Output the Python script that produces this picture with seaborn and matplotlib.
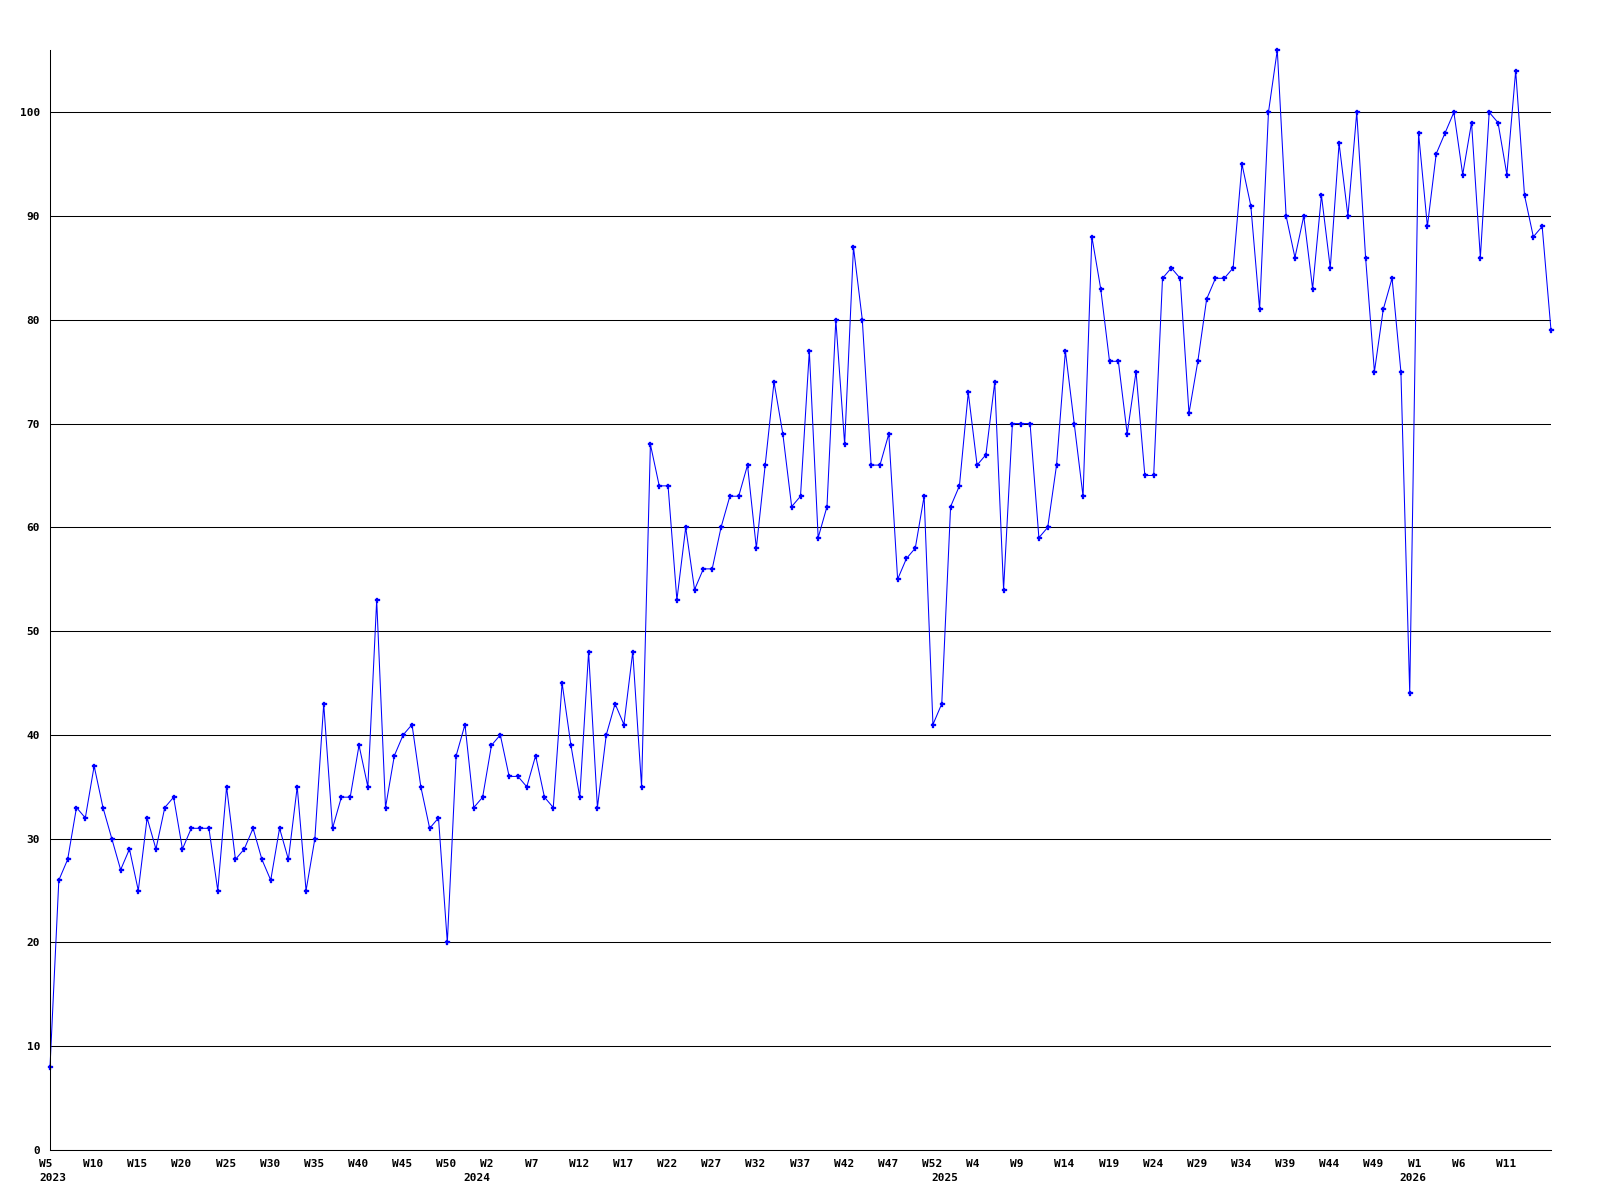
import numpy as np
import pandas as pd
import seaborn as sns
import matplotlib.pyplot as plt
import matplotlib.transforms as mtransforms

# weekly counts, 2023 W5 .. 2026 W16
values = [
    8, 26, 28, 33, 32, 37, 33, 30, 27, 29,
    25, 32, 29, 33, 34, 29, 31, 31, 31, 25,
    35, 28, 29, 31, 28, 26, 31, 28, 35, 25,
    30, 43, 31, 34, 34, 39, 35, 53, 33, 38,
    40, 41, 35, 31, 32, 20, 38, 41, 33, 34,
    39, 40, 36, 36, 35, 38, 34, 33, 45, 39,
    34, 48, 33, 40, 43, 41, 48, 35, 68, 64,
    64, 53, 60, 54, 56, 56, 60, 63, 63, 66,
    58, 66, 74, 69, 62, 63, 77, 59, 62, 80,
    68, 87, 80, 66, 66, 69, 55, 57, 58, 63,
    41, 43, 62, 64, 73, 66, 67, 74, 54, 70,
    70, 70, 59, 60, 66, 77, 70, 63, 88, 83,
    76, 76, 69, 75, 65, 65, 84, 85, 84, 71,
    76, 82, 84, 84, 85, 95, 91, 81, 100, 106,
    90, 86, 90, 83, 92, 85, 97, 90, 100, 86,
    75, 81, 84, 75, 44, 98, 89, 96, 98, 100,
    94, 99, 86, 100, 99, 94, 104, 92, 88, 89,
    79,
]

week_labels = [
    'W5', 'W10', 'W15', 'W20', 'W25', 'W30', 'W35', 'W40', 'W45', 'W50',
    'W2', 'W7', 'W12', 'W17', 'W22', 'W27', 'W32', 'W37', 'W42', 'W47', 'W52',
    'W4', 'W9', 'W14', 'W19', 'W24', 'W29', 'W34', 'W39', 'W44', 'W49',
    'W1', 'W6', 'W11',
]
years = ['2023', '2024', '2025', '2026']
year_first_week = [0, 49, 102, 155]   # index of first week of each year in values

df = pd.DataFrame({'week': np.arange(len(values)), 'count': values})

sns.set_style('white')
plt.rcParams['font.family'] = ['DejaVu Sans Mono']
plt.rcParams['font.weight'] = 'bold'

fig = plt.figure(figsize=(16, 12), dpi=100)
ax = fig.add_axes([50/1600, 50/1200, 1501/1600, 1100/1200])

sns.lineplot(data=df, x='week', y='count', ax=ax, color='#0000ff', linewidth=0.75,
             marker='P', markersize=3.6, markerfacecolor='#0000ff',
             markeredgecolor='#0000ff', markeredgewidth=0.2, clip_on=False)

ax.set_xlim(0, len(values) - 1)
ax.set_ylim(0, max(values))
ax.set_yticks(range(0, 101, 10))
ax.set_xticks(range(0, 5 * len(week_labels), 5))
ax.set_xticklabels(week_labels)
ax.set_xlabel('')
ax.set_ylabel('')

ax.yaxis.grid(True, color='black', linewidth=0.75)
ax.xaxis.grid(False)
ax.set_axisbelow(True)
for side in ['top', 'right']:
    ax.spines[side].set_visible(False)
for side in ['left', 'bottom']:
    ax.spines[side].set_color('black')
    ax.spines[side].set_linewidth(0.75)

ax.tick_params(axis='y', length=0, pad=7.2, labelsize=8, colors='black')
ax.tick_params(axis='x', length=0, pad=6.5, labelsize=8, colors='black')

# week labels start a little left of their tick
shift = mtransforms.ScaledTranslation(-11/100, 0, fig.dpi_scale_trans)
for lbl in ax.get_xticklabels():
    lbl.set_horizontalalignment('left')
    lbl.set_transform(lbl.get_transform() + shift)

# year labels on a second row
trans = mtransforms.blended_transform_factory(ax.transData, ax.transAxes)
for year, start in zip(years, year_first_week):
    xpos = max(start - 0.6, 0.35)
    ax.text(xpos, -0.0205, year, transform=trans, ha='center', va='top',
            fontsize=8, fontweight='bold', color='black')

fig.savefig('out.png', dpi=100)
